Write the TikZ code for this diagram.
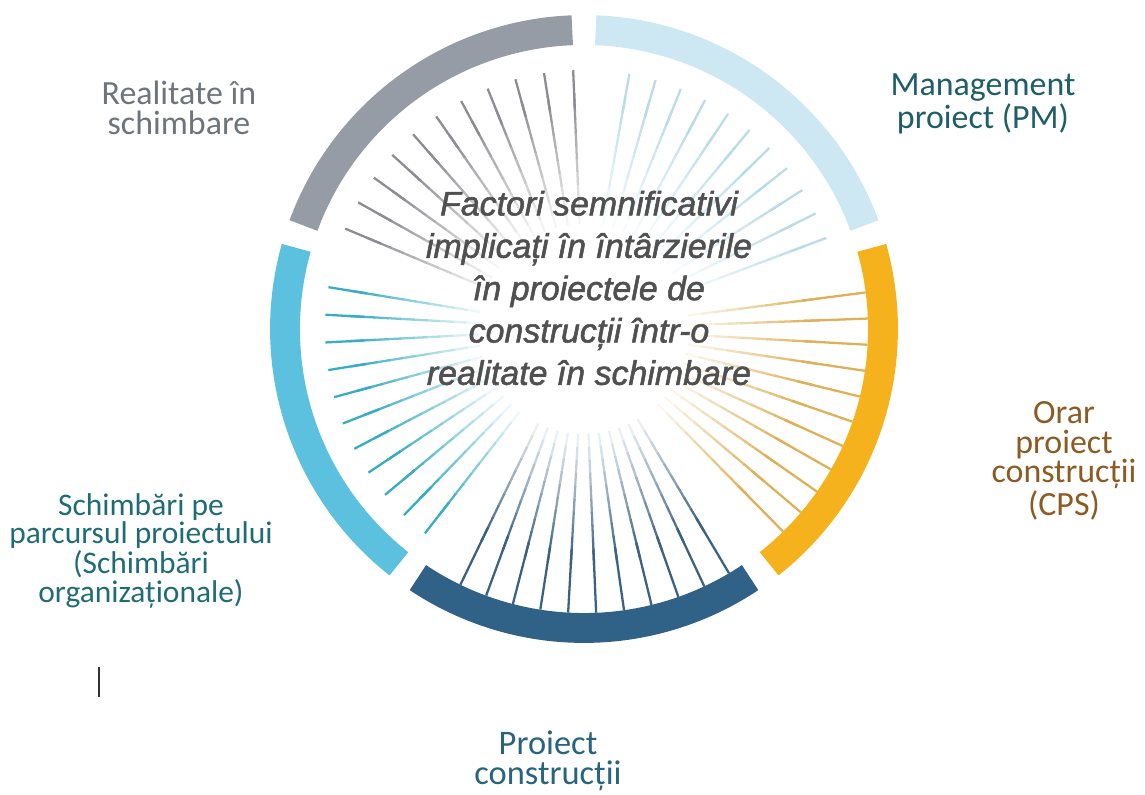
\documentclass[tikz,border=0pt]{standalone}
\usepackage{fontspec}
\setmainfont{Carlito}
\newfontfamily\hubfont{Liberation Sans}[FakeBold=1.6]
\usepackage{tikz}
\usetikzlibrary{positioning}
\definecolor{ringgray}{RGB}{150,156,166}
\definecolor{ringblue}{RGB}{205,232,242}
\definecolor{ringgold}{RGB}{246,178,28}
\definecolor{ringnavy}{RGB}{48,97,134}
\definecolor{ringcyan}{RGB}{92,193,222}
\definecolor{spgray}{RGB}{140,140,146}
\definecolor{spblue}{RGB}{185,220,232}
\definecolor{spgold}{RGB}{222,176,88}
\definecolor{spnavy}{RGB}{58,98,130}
\definecolor{spcyan}{RGB}{55,172,196}
\definecolor{hubgray}{RGB}{80,80,80}
\definecolor{lblgray}{RGB}{110,116,124}
\definecolor{lblteal}{RGB}{30,94,102}
\definecolor{lblbrown}{RGB}{140,90,35}
\definecolor{lblsea}{RGB}{32,108,118}
\definecolor{lblnavy}{RGB}{40,100,125}

\begin{document}
\begin{tikzpicture}[x=0.02cm, y=0.02cm,
    seg/.style={line width=17pt, line cap=butt},
    spoke/.style={line width=1.3pt, line cap=butt},
    lbl/.style={align=center, inner sep=0pt, font=\fontsize{19.3}{16.9}\selectfont},
    hub/.style={align=center, inner sep=0pt, text=hubgray,
                font=\hubfont\itshape\fontsize{19.3}{24.1}\selectfont}]
\useasboundingbox (-584,-465) rectangle (561,329);
% spokes, fading in towards the ring
\foreach \col/\from/\to/\rend in {spgray/92.4/157.2/259, spblue/79.9/20.6/259,
    spgold/7.4/-45.5/284, spnavy/-59.3/-115.8/284, spcyan/170.7/232.1/259}{
  \foreach \i in {0,...,10}{
    \pgfmathsetmacro\ang{\from+(\to-\from)*\i/10}
    \foreach \k in {1,...,10}{
      \pgfmathtruncatemacro\pct{10*\k}
      \draw[spoke, \col!\pct!white] (\ang:{92+13*\k}) -- (\ang:{106+13*\k});
    }
    \draw[spoke, \col] (\ang:220) -- (\ang:\rend);
  }
}
% ring
\foreach \col/\a in {ringgray/92.25, ringcyan/164.25, ringnavy/236.25, ringgold/308.25, ringblue/20.25}
  \draw[seg, \col] (\a:299) arc[start angle=\a, delta angle=67.5, radius=299];
\node[hub] (centre) at (5,41) {Factori semnificativi\\implicați în întârzierile\\în proiectele de\\construcții într-o\\realitate în schimbare};
\node[lbl, text=lblgray] (realitate) at (-405,221) {Realitate în\\schimbare};
\node[lbl, text=lblteal] (pm) at (399,225) {Management\\proiect (PM)};
\node[lbl, text=lblbrown] (cps) at (480,-132) {Orar\\proiect\\construcții\\(CPS)};
\node[lbl, text=lblsea, font=\fontsize{17.9}{15.2}\selectfont] (schimbari) at (-443,-222)
  {Schimbări pe\\parcursul proiectului\\(Schimbări\\organizaționale)};
\node[lbl, text=lblnavy, font=\fontsize{19.6}{17}\selectfont] (proiect) at (-36,-432) {Proiect\\construcții};
\draw[line width=1pt, black!80] (-485,-338) -- (-485,-368);
\end{tikzpicture}
\end{document}
